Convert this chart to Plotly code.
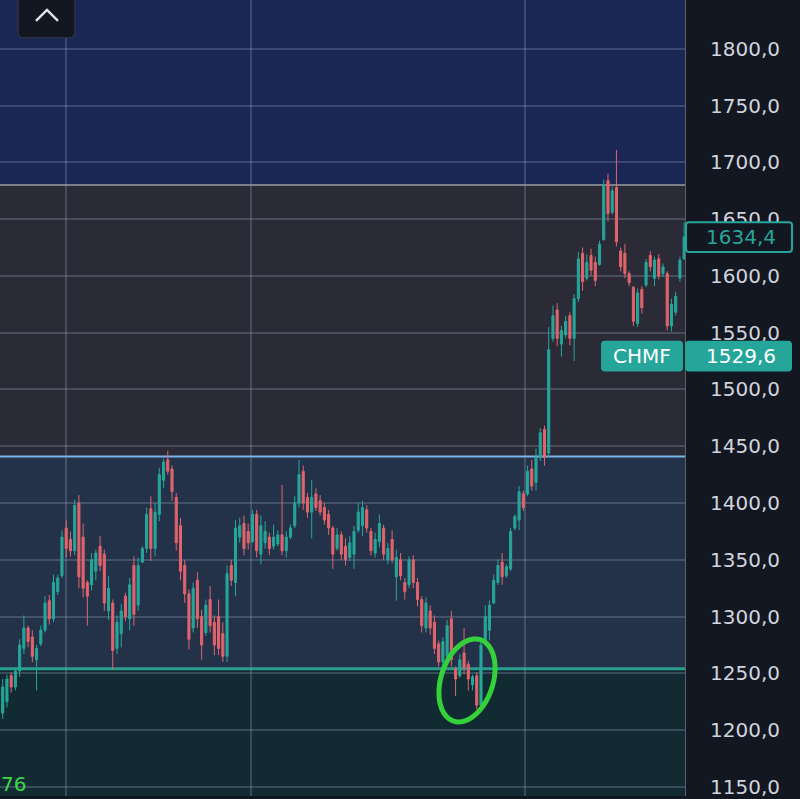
import math
import plotly.graph_objects as go

# ---------------- data ----------------
opens = [1215,1225,1248,1238,1252,1272,1290,1282,1262,1276,1288,1314,1298,1322,1336,1378,1368,1358,1400,1370,
         1330,1328,1340,1362,1355,1305,1312,1272,1285,1318,1298,1345,1310,
         1348,1360,1395,1360,1390,1420,1438,1430,1405,1380,1345,1320,1290,1332,1300,1286,1315,1295,1300,1285,
         1265,1345,1330,1370,1382,1375,1366,1390,1355,1365,1370,1362,
         1364,1372,1358,1370,1380,1400,1428,1405,1392,1408,1402,1396,1390,1378,1360,1372,1362,1352,1355,1376,
         1380,1394,1375,1356,1366,1378,1350,1368,1335,1350,1330,1328,
         1350,1330,1315,1290,1305,1295,1276,1260,1265,1298,1254,1248,1268,1258,1240,1248,1222,1278,1288,1312,
         1330,1348,1336,1342,1378,1385,1408,1408,1430,1418,1440,1465,
         1444,1545,1570,1540,1548,1565,1545,1580,1620,1598,1618,1612,1610,1632,1684,1656,1678,1622,1620,1602,
         1590,1558,1588,1592,1618,1598,1615,1602,1602,1556,1568,1598,1615]
highs = [1245,1249,1251,1255,1280,1301,1292,1288,1275,1292,1318,1319,1337,1337,1376,1385,1375,1403,1407,1382,
         1332,1356,1359,1371,1359,1336,1315,1301,1311,1321,1334,1353,1352,
         1362,1396,1406,1400,1431,1439,1446,1433,1409,1387,1350,1324,1330,1339,1306,1315,1327,1301,1315,1295,
         1345,1350,1385,1387,1389,1382,1394,1394,1389,1384,1374,1381,
         1376,1416,1375,1381,1406,1438,1433,1409,1420,1413,1407,1400,1394,1380,1378,1375,1369,1371,1380,1400,
         1402,1398,1378,1374,1390,1381,1365,1376,1359,1356,1334,1353,
         1354,1334,1318,1317,1310,1301,1279,1282,1297,1305,1256,1267,1290,1261,1249,1251,1279,1310,1314,1337,
         1350,1356,1346,1378,1390,1415,1411,1433,1438,1448,1466,1468,
         1555,1574,1576,1556,1565,1568,1584,1621,1625,1619,1624,1617,1631,1685,1690,1679,1711,1625,1628,1604,
         1591,1589,1591,1615,1622,1617,1619,1611,1604,1580,1586,1617,1647]
lows = [1210,1220,1233,1235,1247,1267,1273,1260,1235,1274,1286,1293,1295,1319,1334,1352,1353,1354,1325,1317,
        1292,1323,1332,1340,1305,1297,1253,1267,1273,1296,1288,1292,1305,
        1347,1356,1349,1353,1384,1413,1425,1402,1358,1332,1312,1271,1286,1290,1262,1283,1286,1266,1266,1260,
        1260,1327,1318,1365,1354,1359,1365,1352,1346,1360,1354,1359,
        1362,1354,1352,1368,1378,1396,1394,1387,1369,1393,1389,1381,1372,1342,1358,1350,1345,1349,1342,1374,
        1371,1374,1354,1352,1361,1350,1346,1347,1314,1332,1315,1325,
        1325,1309,1286,1286,1284,1267,1256,1256,1258,1256,1230,1246,1249,1235,1235,1218,1218,1275,1279,1311,
        1328,1328,1334,1340,1376,1376,1393,1406,1411,1411,1437,1433,
        1440,1542,1538,1529,1545,1539,1525,1577,1587,1596,1600,1591,1609,1631,1648,1654,1626,1604,1598,1591,
        1556,1555,1567,1590,1604,1591,1597,1599,1552,1551,1565,1595,1614]
closes = [1238,1245,1238,1252,1275,1290,1278,1265,1272,1288,1312,1298,1330,1334,1370,1360,1358,1398,1335,1325,
          1318,1350,1356,1345,1312,1325,1270,1295,1305,1300,1328,1302,1345,
          1360,1390,1360,1392,1425,1436,1428,1410,1365,1340,1320,1280,1325,1298,1275,1310,1292,1275,1272,1265,
          1338,1332,1378,1380,1360,1365,1390,1358,1380,1375,1360,1370,
          1372,1358,1370,1378,1400,1425,1400,1392,1405,1396,1392,1385,1378,1355,1372,1355,1350,1365,1375,1392,
          1396,1378,1358,1368,1382,1355,1360,1350,1352,1336,1322,1350,
          1330,1315,1292,1312,1290,1272,1260,1278,1292,1262,1245,1262,1255,1245,1247,1222,1275,1300,1310,1332,
          1345,1335,1344,1375,1388,1410,1396,1428,1415,1440,1462,1440,
          1535,1565,1545,1552,1560,1545,1580,1615,1595,1612,1605,1596,1628,1680,1655,1675,1630,1608,1602,1594,
          1560,1585,1572,1612,1608,1614,1600,1608,1556,1575,1582,1614,1634.4]
candle_idx = list(range(len(closes)))

price_ticks = [1150, 1200, 1250, 1300, 1350, 1400, 1450, 1500, 1550, 1600, 1650, 1700, 1750, 1800]
price_tick_labels = ["1150,0", "1200,0", "1250,0", "1300,0", "1350,0", "1400,0", "1450,0",
                     "1500,0", "1550,0", "1600,0", "1650,0", "1700,0", "1750,0", "1800,0"]
period_breaks = [14.95, 58.65, 123.4]

zone_top = 1680
zone_mid = 1441
zone_low = 1254
last_price_label = "1634,4"
compare_label = "1529,6"
ticker = "CHMF"

# ---------------- styling ----------------
TEAL = "#26a69a"
RED = "#e2646c"
W, H = 800, 799
PLOT_W = 685

def pp(x, y):
    return x / PLOT_W, 1 - y / H

def rrect(x0, y0, x1, y1, r):
    def P(x, y):
        a, b = pp(x, y)
        return f"{a:.5f},{b:.5f}"
    return (f"M {P(x0 + r, y0)} L {P(x1 - r, y0)} Q {P(x1, y0)} {P(x1, y0 + r)} "
            f"L {P(x1, y1 - r)} Q {P(x1, y1)} {P(x1 - r, y1)} "
            f"L {P(x0 + r, y1)} Q {P(x0, y1)} {P(x0, y1 - r)} "
            f"L {P(x0, y0 + r)} Q {P(x0, y0)} {P(x0 + r, y0)} Z")

fig = go.Figure()
fig.add_trace(go.Candlestick(
    x=candle_idx, open=opens, high=highs, low=lows, close=closes,
    increasing=dict(line=dict(color=TEAL, width=1), fillcolor=TEAL),
    decreasing=dict(line=dict(color=RED, width=1), fillcolor=RED),
    whiskerwidth=0, showlegend=False, hoverinfo="skip"))

shapes = []
# background zones
for y0, y1, col in [(zone_top, 2000, "#1a2654"), (zone_mid, zone_top, "#2a2b37"),
                    (zone_low, zone_mid, "#233249"), (1000, zone_low, "#122a31")]:
    shapes.append(dict(type="rect", xref="x domain", yref="y", x0=0, x1=1, y0=y0, y1=y1,
                       fillcolor=col, line=dict(width=0), layer="below"))
for yv, col, wd in [(zone_top, "#7d7f88", 2), (zone_mid, "#7ab2ea", 2), (zone_low, "#2a9d8f", 3)]:
    shapes.append(dict(type="line", xref="x domain", yref="y", x0=0, x1=1, y0=yv, y1=yv,
                       line=dict(color=col, width=wd), layer="below"))

# hand drawn green ellipse
cx, cy, rx, ry, phi = 467, 683, 26, 43, math.radians(18)
pts = []
for k in range(0, 73):
    t = 2 * math.pi * k / 72
    x = cx + rx * math.cos(t) * math.cos(phi) + ry * math.sin(t) * math.sin(phi)
    y = cy + rx * math.cos(t) * math.sin(phi) - ry * math.sin(t) * math.cos(phi)
    a, b = pp(x, y)
    pts.append(f"{a:.5f},{b:.5f}")
shapes.append(dict(type="path", xref="paper", yref="paper", path="M " + " L ".join(pts),
                   line=dict(color="#35d13a", width=5), layer="above"))

# up button
shapes.append(dict(type="path", xref="paper", yref="paper", path=rrect(18, -6, 75, 38, 6),
                   fillcolor="#131722", line=dict(color="#2c3245", width=1.5), layer="above"))
a1, b1 = pp(36, 21); a2, b2 = pp(47, 10); a3, b3 = pp(58, 21)
shapes.append(dict(type="path", xref="paper", yref="paper",
                   path=f"M {a1:.5f},{b1:.5f} L {a2:.5f},{b2:.5f} L {a3:.5f},{b3:.5f}",
                   line=dict(color="#dfe2ea", width=2.5), layer="above"))

# price label boxes
shapes.append(dict(type="path", xref="paper", yref="paper", path=rrect(686, 223, 792, 253, 3),
                   fillcolor="#131722", line=dict(color=TEAL, width=2), layer="above"))
shapes.append(dict(type="path", xref="paper", yref="paper", path=rrect(601, 342, 683, 373, 4),
                   fillcolor=TEAL, line=dict(width=0), layer="above"))
shapes.append(dict(type="path", xref="paper", yref="paper", path=rrect(685, 342, 792, 373, 4),
                   fillcolor=TEAL, line=dict(width=0), layer="above"))

FONT = "DejaVu Sans"
annotations = []
def ann(text, x, y, color, size=20, xanchor="center"):
    a, b = pp(x, y)
    annotations.append(dict(text=text, x=a, y=b, xref="paper", yref="paper", showarrow=False,
                            xanchor=xanchor, yanchor="middle",
                            font=dict(family=FONT, size=size, color=color)))
ann(last_price_label, 741, 238, TEAL)
ann(ticker, 642, 357.5, "#ffffff")
ann(compare_label, 741, 357.5, "#ffffff")
ann("76", -1, 787, "#3fd64a", size=20, xanchor="left")

fig.update_layout(
    width=W, height=H, margin=dict(l=0, r=W - PLOT_W, t=0, b=0),
    paper_bgcolor="#131722", plot_bgcolor="#2a2b37",
    shapes=shapes, annotations=annotations, showlegend=False,
    xaxis=dict(range=[-0.64, 161.2], tickvals=period_breaks, showticklabels=False, ticks="",
               showgrid=True, gridcolor="rgba(150,160,190,0.28)", gridwidth=1.5, zeroline=False,
               rangeslider=dict(visible=False), showline=False, fixedrange=True),
    yaxis=dict(range=[1142, 1843], side="right", tickvals=price_ticks, ticktext=price_tick_labels,
               showgrid=True, gridcolor="rgba(150,160,190,0.28)", gridwidth=1.5, zeroline=False,
               ticks="", ticklabelstandoff=20, ticklabeloverflow="allow",
               showline=True, linecolor="#5d606b", linewidth=1,
               tickfont=dict(family=FONT, size=20, color="#d1d4dc"), fixedrange=True),
)

fig.write_html("out.html", config={"displayModeBar": False},
               post_script="document.body.style.margin='0';document.body.style.background='#131722';")
